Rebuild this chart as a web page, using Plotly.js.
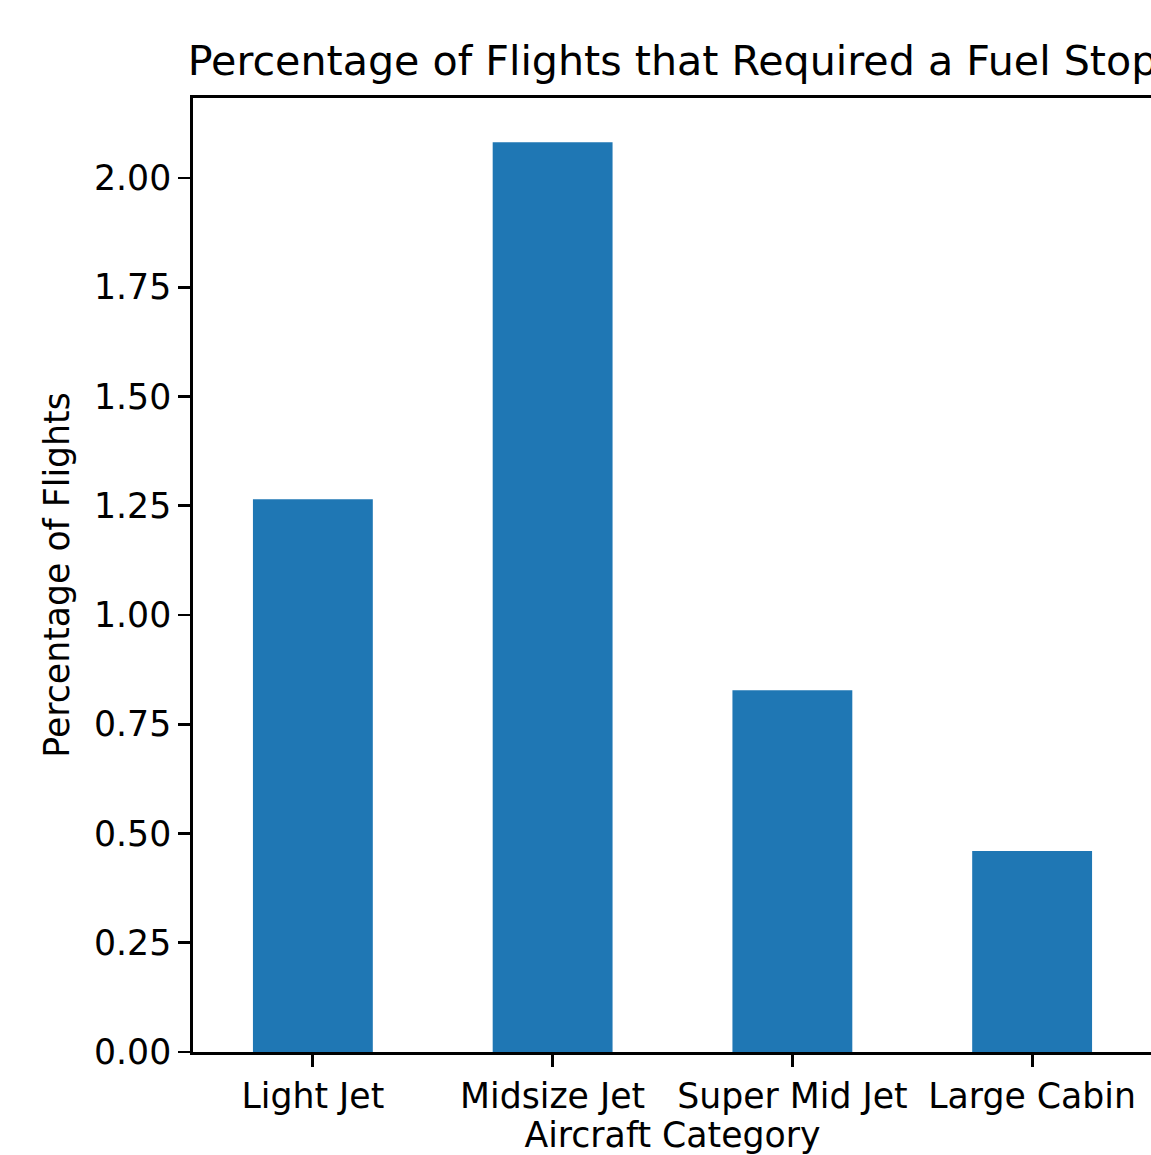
<!DOCTYPE html>
<html>
<head>
<meta charset="utf-8">
<script src="https://cdn.plot.ly/plotly-3.0.1.min.js"></script>
<style>
html,body{margin:0;padding:0;overflow:hidden;background:#fff;width:1151px;height:1155px;}
#chart{width:1160px;height:1155px;}
</style>
</head>
<body>
<div id="chart"></div>
<script>
const categories = ["Light Jet", "Midsize Jet", "Super Mid Jet", "Large Cabin"];
const percentages = [1.265, 2.082, 0.828, 0.460];
const yTickValues = [0, 0.25, 0.5, 0.75, 1.0, 1.25, 1.5, 1.75, 2.0];

const FONT = "DejaVu Sans, Verdana, sans-serif";

const trace = {
  type: "bar",
  x: categories,
  y: percentages,
  width: 0.5,
  marker: {color: "#1f77b4", line: {width: 0}},
  hoverinfo: "skip"
};

const layout = {
  width: 1160,
  height: 1155,
  margin: {l: 193, r: 8, t: 98, b: 103, pad: 0},
  paper_bgcolor: "#ffffff",
  plot_bgcolor: "#ffffff",
  showlegend: false,
  font: {family: FONT, size: 34.7, color: "#000000"},
  title: {
    text: "Percentage of Flights that Required a Fuel Stop",
    font: {family: FONT, size: 41.2, color: "#000000"},
    x: 0.5, xref: "paper", xanchor: "center",
    y: 1, yref: "paper", yanchor: "bottom",
    pad: {b: 23}
  },
  xaxis: {
    type: "category",
    range: [-0.5, 3.5],
    showgrid: false,
    zeroline: false,
    showline: true,
    linecolor: "#000000",
    linewidth: 2.8,
    mirror: true,
    ticks: "outside",
    ticklen: 12,
    tickwidth: 2.8,
    tickcolor: "#000000",
    tickfont: {family: FONT, size: 34.7, color: "#000000"},
    title: {text: "Aircraft Category", font: {family: FONT, size: 34.7, color: "#000000"}, standoff: 19},
    fixedrange: true
  },
  yaxis: {
    range: [0, 2.183],
    tickvals: yTickValues,
    tickformat: ".2f",
    showgrid: false,
    zeroline: false,
    showline: true,
    linecolor: "#000000",
    linewidth: 2.8,
    mirror: true,
    ticks: "outside",
    ticklen: 12,
    tickwidth: 2.8,
    tickcolor: "#000000",
    tickfont: {family: FONT, size: 34.7, color: "#000000"},
    title: {text: "Percentage of Flights", font: {family: FONT, size: 34.7, color: "#000000"}, standoff: 14},
    fixedrange: true
  }
};

Plotly.newPlot("chart", [trace], layout, {displayModeBar: false, staticPlot: true});
</script>
</body>
</html>
